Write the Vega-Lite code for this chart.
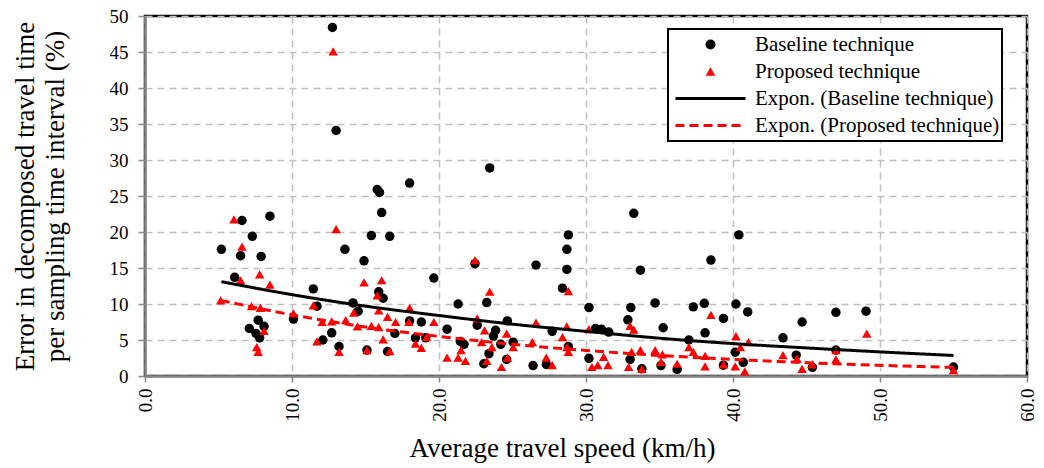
{
  "$schema": "https://vega.github.io/schema/vega-lite/v6.json",
  "width": 882,
  "height": 360,
  "autosize": {"type": "none"},
  "padding": {"left": 145, "top": 16, "right": 17, "bottom": 92},
  "background": "#ffffff",
  "config": {
    "font": "Liberation Serif",
    "view": {"stroke": "#000000", "strokeWidth": 2.5},
    "axis": {
      "labelFont": "Liberation Serif",
      "titleFont": "Liberation Serif",
      "labelColor": "#000000",
      "titleColor": "#000000",
      "titleFontWeight": "normal",
      "labelFontSize": 19,
      "titleFontSize": 27,
      "grid": true,
      "gridDash": [7, 5],
      "gridColor": "#bfbfbf",
      "gridWidth": 1.5,
      "domainColor": "#878787",
      "domainWidth": 2.5,
      "tickColor": "#878787",
      "tickWidth": 1.5,
      "tickSize": 7,
      "labelFlush": false,
      "labelOverlap": false
    }
  },
  "datasets": {
    "points": [
      {"x": 5.2, "y": 17.6, "label": "Baseline technique"},
      {"x": 6.1, "y": 13.7, "label": "Baseline technique"},
      {"x": 6.6, "y": 21.6, "label": "Baseline technique"},
      {"x": 6.5, "y": 16.7, "label": "Baseline technique"},
      {"x": 7.3, "y": 19.4, "label": "Baseline technique"},
      {"x": 7.9, "y": 16.6, "label": "Baseline technique"},
      {"x": 8.5, "y": 22.2, "label": "Baseline technique"},
      {"x": 7.1, "y": 6.6, "label": "Baseline technique"},
      {"x": 7.7, "y": 7.75, "label": "Baseline technique"},
      {"x": 8.1, "y": 6.9, "label": "Baseline technique"},
      {"x": 7.55, "y": 5.9, "label": "Baseline technique"},
      {"x": 7.8, "y": 5.3, "label": "Baseline technique"},
      {"x": 12.75, "y": 48.4, "label": "Baseline technique"},
      {"x": 13.0, "y": 34.1, "label": "Baseline technique"},
      {"x": 10.1, "y": 7.9, "label": "Baseline technique"},
      {"x": 11.45, "y": 12.1, "label": "Baseline technique"},
      {"x": 11.7, "y": 9.7, "label": "Baseline technique"},
      {"x": 12.1, "y": 5.0, "label": "Baseline technique"},
      {"x": 12.7, "y": 6.0, "label": "Baseline technique"},
      {"x": 13.2, "y": 4.1, "label": "Baseline technique"},
      {"x": 13.6, "y": 17.6, "label": "Baseline technique"},
      {"x": 14.15, "y": 10.15, "label": "Baseline technique"},
      {"x": 14.5, "y": 9.0, "label": "Baseline technique"},
      {"x": 14.9, "y": 16.0, "label": "Baseline technique"},
      {"x": 15.4, "y": 19.5, "label": "Baseline technique"},
      {"x": 15.8, "y": 25.9, "label": "Baseline technique"},
      {"x": 15.95, "y": 25.5, "label": "Baseline technique"},
      {"x": 16.1, "y": 22.7, "label": "Baseline technique"},
      {"x": 16.65, "y": 19.4, "label": "Baseline technique"},
      {"x": 15.9, "y": 11.7, "label": "Baseline technique"},
      {"x": 16.2, "y": 10.8, "label": "Baseline technique"},
      {"x": 15.1, "y": 3.6, "label": "Baseline technique"},
      {"x": 16.5, "y": 3.4, "label": "Baseline technique"},
      {"x": 17.0, "y": 5.9, "label": "Baseline technique"},
      {"x": 18.0, "y": 26.8, "label": "Baseline technique"},
      {"x": 18.0, "y": 7.65, "label": "Baseline technique"},
      {"x": 18.8, "y": 7.5, "label": "Baseline technique"},
      {"x": 18.4, "y": 5.3, "label": "Baseline technique"},
      {"x": 19.1, "y": 5.3, "label": "Baseline technique"},
      {"x": 19.65, "y": 13.6, "label": "Baseline technique"},
      {"x": 23.45, "y": 28.9, "label": "Baseline technique"},
      {"x": 21.3, "y": 10.0, "label": "Baseline technique"},
      {"x": 20.55, "y": 6.5, "label": "Baseline technique"},
      {"x": 22.45, "y": 15.6, "label": "Baseline technique"},
      {"x": 23.25, "y": 10.2, "label": "Baseline technique"},
      {"x": 22.6, "y": 7.05, "label": "Baseline technique"},
      {"x": 23.85, "y": 6.35, "label": "Baseline technique"},
      {"x": 23.7, "y": 5.55, "label": "Baseline technique"},
      {"x": 24.65, "y": 7.65, "label": "Baseline technique"},
      {"x": 21.45, "y": 4.8, "label": "Baseline technique"},
      {"x": 21.7, "y": 4.4, "label": "Baseline technique"},
      {"x": 24.2, "y": 4.4, "label": "Baseline technique"},
      {"x": 23.4, "y": 3.1, "label": "Baseline technique"},
      {"x": 23.05, "y": 1.7, "label": "Baseline technique"},
      {"x": 24.6, "y": 2.3, "label": "Baseline technique"},
      {"x": 25.05, "y": 4.7, "label": "Baseline technique"},
      {"x": 26.6, "y": 15.4, "label": "Baseline technique"},
      {"x": 26.4, "y": 1.45, "label": "Baseline technique"},
      {"x": 27.7, "y": 6.2, "label": "Baseline technique"},
      {"x": 27.3, "y": 1.6, "label": "Baseline technique"},
      {"x": 28.4, "y": 12.2, "label": "Baseline technique"},
      {"x": 28.7, "y": 14.8, "label": "Baseline technique"},
      {"x": 28.7, "y": 17.6, "label": "Baseline technique"},
      {"x": 28.8, "y": 19.6, "label": "Baseline technique"},
      {"x": 28.8, "y": 4.1, "label": "Baseline technique"},
      {"x": 30.2, "y": 9.5, "label": "Baseline technique"},
      {"x": 30.2, "y": 2.45, "label": "Baseline technique"},
      {"x": 30.65, "y": 6.6, "label": "Baseline technique"},
      {"x": 31.05, "y": 6.5, "label": "Baseline technique"},
      {"x": 31.55, "y": 6.1, "label": "Baseline technique"},
      {"x": 33.25, "y": 22.6, "label": "Baseline technique"},
      {"x": 33.7, "y": 14.7, "label": "Baseline technique"},
      {"x": 33.05, "y": 9.5, "label": "Baseline technique"},
      {"x": 32.85, "y": 7.8, "label": "Baseline technique"},
      {"x": 33.0, "y": 2.3, "label": "Baseline technique"},
      {"x": 33.8, "y": 1.0, "label": "Baseline technique"},
      {"x": 34.7, "y": 10.15, "label": "Baseline technique"},
      {"x": 35.25, "y": 6.7, "label": "Baseline technique"},
      {"x": 35.1, "y": 1.45, "label": "Baseline technique"},
      {"x": 36.2, "y": 0.9, "label": "Baseline technique"},
      {"x": 37.0, "y": 5.0, "label": "Baseline technique"},
      {"x": 37.3, "y": 9.6, "label": "Baseline technique"},
      {"x": 38.05, "y": 10.1, "label": "Baseline technique"},
      {"x": 38.5, "y": 16.1, "label": "Baseline technique"},
      {"x": 38.1, "y": 6.0, "label": "Baseline technique"},
      {"x": 39.35, "y": 8.0, "label": "Baseline technique"},
      {"x": 39.35, "y": 1.5, "label": "Baseline technique"},
      {"x": 40.4, "y": 19.6, "label": "Baseline technique"},
      {"x": 40.2, "y": 10.0, "label": "Baseline technique"},
      {"x": 41.0, "y": 8.9, "label": "Baseline technique"},
      {"x": 40.15, "y": 3.3, "label": "Baseline technique"},
      {"x": 40.7, "y": 1.9, "label": "Baseline technique"},
      {"x": 43.4, "y": 5.3, "label": "Baseline technique"},
      {"x": 44.7, "y": 7.5, "label": "Baseline technique"},
      {"x": 44.3, "y": 2.9, "label": "Baseline technique"},
      {"x": 45.4, "y": 1.2, "label": "Baseline technique"},
      {"x": 47.0, "y": 8.85, "label": "Baseline technique"},
      {"x": 47.0, "y": 3.6, "label": "Baseline technique"},
      {"x": 49.05, "y": 9.0, "label": "Baseline technique"},
      {"x": 55.0, "y": 1.25, "label": "Baseline technique"},
      {"x": 6.05, "y": 21.75, "label": "Proposed technique"},
      {"x": 6.6, "y": 17.95, "label": "Proposed technique"},
      {"x": 6.5, "y": 13.3, "label": "Proposed technique"},
      {"x": 5.15, "y": 10.5, "label": "Proposed technique"},
      {"x": 7.25, "y": 9.7, "label": "Proposed technique"},
      {"x": 7.85, "y": 9.45, "label": "Proposed technique"},
      {"x": 7.8, "y": 14.1, "label": "Proposed technique"},
      {"x": 8.5, "y": 12.7, "label": "Proposed technique"},
      {"x": 8.1, "y": 6.25, "label": "Proposed technique"},
      {"x": 7.6, "y": 4.0, "label": "Proposed technique"},
      {"x": 7.7, "y": 3.35, "label": "Proposed technique"},
      {"x": 12.8, "y": 45.1, "label": "Proposed technique"},
      {"x": 13.0, "y": 20.4, "label": "Proposed technique"},
      {"x": 10.1, "y": 8.7, "label": "Proposed technique"},
      {"x": 11.45, "y": 9.8, "label": "Proposed technique"},
      {"x": 11.7, "y": 4.8, "label": "Proposed technique"},
      {"x": 12.05, "y": 7.5, "label": "Proposed technique"},
      {"x": 12.7, "y": 7.6, "label": "Proposed technique"},
      {"x": 13.2, "y": 3.35, "label": "Proposed technique"},
      {"x": 13.65, "y": 7.75, "label": "Proposed technique"},
      {"x": 14.2, "y": 8.8, "label": "Proposed technique"},
      {"x": 14.45, "y": 6.9, "label": "Proposed technique"},
      {"x": 14.9, "y": 13.0, "label": "Proposed technique"},
      {"x": 15.4, "y": 6.95, "label": "Proposed technique"},
      {"x": 15.9, "y": 6.8, "label": "Proposed technique"},
      {"x": 16.1, "y": 13.3, "label": "Proposed technique"},
      {"x": 15.8, "y": 11.2, "label": "Proposed technique"},
      {"x": 15.9, "y": 9.1, "label": "Proposed technique"},
      {"x": 16.2, "y": 5.1, "label": "Proposed technique"},
      {"x": 16.5, "y": 8.2, "label": "Proposed technique"},
      {"x": 15.1, "y": 3.6, "label": "Proposed technique"},
      {"x": 16.65, "y": 3.45, "label": "Proposed technique"},
      {"x": 17.05, "y": 7.5, "label": "Proposed technique"},
      {"x": 18.0, "y": 9.45, "label": "Proposed technique"},
      {"x": 17.95, "y": 7.5, "label": "Proposed technique"},
      {"x": 18.4, "y": 4.5, "label": "Proposed technique"},
      {"x": 18.8, "y": 3.9, "label": "Proposed technique"},
      {"x": 19.15, "y": 5.4, "label": "Proposed technique"},
      {"x": 19.65, "y": 7.5, "label": "Proposed technique"},
      {"x": 20.55, "y": 2.55, "label": "Proposed technique"},
      {"x": 21.3, "y": 2.55, "label": "Proposed technique"},
      {"x": 21.5, "y": 3.6, "label": "Proposed technique"},
      {"x": 21.8, "y": 2.1, "label": "Proposed technique"},
      {"x": 22.45, "y": 16.1, "label": "Proposed technique"},
      {"x": 23.45, "y": 11.7, "label": "Proposed technique"},
      {"x": 22.6, "y": 8.0, "label": "Proposed technique"},
      {"x": 23.1, "y": 6.35, "label": "Proposed technique"},
      {"x": 22.9, "y": 4.7, "label": "Proposed technique"},
      {"x": 23.6, "y": 4.0, "label": "Proposed technique"},
      {"x": 23.25, "y": 2.1, "label": "Proposed technique"},
      {"x": 24.6, "y": 5.9, "label": "Proposed technique"},
      {"x": 25.05, "y": 4.0, "label": "Proposed technique"},
      {"x": 24.65, "y": 2.55, "label": "Proposed technique"},
      {"x": 24.25, "y": 1.25, "label": "Proposed technique"},
      {"x": 26.35, "y": 4.7, "label": "Proposed technique"},
      {"x": 26.6, "y": 7.4, "label": "Proposed technique"},
      {"x": 27.3, "y": 2.55, "label": "Proposed technique"},
      {"x": 27.7, "y": 1.5, "label": "Proposed technique"},
      {"x": 28.7, "y": 6.9, "label": "Proposed technique"},
      {"x": 28.4, "y": 5.4, "label": "Proposed technique"},
      {"x": 28.8, "y": 11.8, "label": "Proposed technique"},
      {"x": 28.7, "y": 4.0, "label": "Proposed technique"},
      {"x": 28.8, "y": 3.35, "label": "Proposed technique"},
      {"x": 30.2, "y": 6.5, "label": "Proposed technique"},
      {"x": 30.4, "y": 1.25, "label": "Proposed technique"},
      {"x": 31.2, "y": 2.65, "label": "Proposed technique"},
      {"x": 31.5, "y": 1.5, "label": "Proposed technique"},
      {"x": 30.8, "y": 1.5, "label": "Proposed technique"},
      {"x": 33.0, "y": 6.95, "label": "Proposed technique"},
      {"x": 33.25, "y": 6.45, "label": "Proposed technique"},
      {"x": 32.9, "y": 1.25, "label": "Proposed technique"},
      {"x": 33.7, "y": 3.6, "label": "Proposed technique"},
      {"x": 33.1, "y": 3.35, "label": "Proposed technique"},
      {"x": 33.8, "y": 1.0, "label": "Proposed technique"},
      {"x": 34.7, "y": 3.6, "label": "Proposed technique"},
      {"x": 35.2, "y": 3.0, "label": "Proposed technique"},
      {"x": 35.1, "y": 1.95, "label": "Proposed technique"},
      {"x": 36.2, "y": 1.7, "label": "Proposed technique"},
      {"x": 37.0, "y": 4.0, "label": "Proposed technique"},
      {"x": 37.3, "y": 3.35, "label": "Proposed technique"},
      {"x": 38.5, "y": 8.5, "label": "Proposed technique"},
      {"x": 38.1, "y": 2.8, "label": "Proposed technique"},
      {"x": 38.1, "y": 1.35, "label": "Proposed technique"},
      {"x": 39.35, "y": 1.6, "label": "Proposed technique"},
      {"x": 40.2, "y": 5.55, "label": "Proposed technique"},
      {"x": 40.5, "y": 4.0, "label": "Proposed technique"},
      {"x": 40.15, "y": 1.35, "label": "Proposed technique"},
      {"x": 40.8, "y": 0.65, "label": "Proposed technique"},
      {"x": 41.05, "y": 4.7, "label": "Proposed technique"},
      {"x": 43.4, "y": 2.9, "label": "Proposed technique"},
      {"x": 44.35, "y": 2.4, "label": "Proposed technique"},
      {"x": 44.7, "y": 1.0, "label": "Proposed technique"},
      {"x": 45.4, "y": 1.6, "label": "Proposed technique"},
      {"x": 47.0, "y": 3.6, "label": "Proposed technique"},
      {"x": 47.0, "y": 2.3, "label": "Proposed technique"},
      {"x": 49.1, "y": 5.9, "label": "Proposed technique"},
      {"x": 55.0, "y": 0.8, "label": "Proposed technique"}
    ],
    "trend": [
      {"x": 5.2, "y": 13.1, "label": "Expon. (Baseline technique)"},
      {"x": 10, "y": 11.3, "label": "Expon. (Baseline technique)"},
      {"x": 15, "y": 9.7, "label": "Expon. (Baseline technique)"},
      {"x": 20, "y": 8.4, "label": "Expon. (Baseline technique)"},
      {"x": 25, "y": 7.2, "label": "Expon. (Baseline technique)"},
      {"x": 30, "y": 6.2, "label": "Expon. (Baseline technique)"},
      {"x": 35, "y": 5.25, "label": "Expon. (Baseline technique)"},
      {"x": 40, "y": 4.5, "label": "Expon. (Baseline technique)"},
      {"x": 45, "y": 3.9, "label": "Expon. (Baseline technique)"},
      {"x": 50, "y": 3.35, "label": "Expon. (Baseline technique)"},
      {"x": 55, "y": 2.85, "label": "Expon. (Baseline technique)"},
      {"x": 5.15, "y": 10.5, "label": "Expon. (Proposed technique)"},
      {"x": 10, "y": 8.5, "label": "Expon. (Proposed technique)"},
      {"x": 15, "y": 6.8, "label": "Expon. (Proposed technique)"},
      {"x": 20, "y": 5.5, "label": "Expon. (Proposed technique)"},
      {"x": 25, "y": 4.4, "label": "Expon. (Proposed technique)"},
      {"x": 30, "y": 3.55, "label": "Expon. (Proposed technique)"},
      {"x": 35, "y": 2.85, "label": "Expon. (Proposed technique)"},
      {"x": 40, "y": 2.3, "label": "Expon. (Proposed technique)"},
      {"x": 45, "y": 1.85, "label": "Expon. (Proposed technique)"},
      {"x": 50, "y": 1.48, "label": "Expon. (Proposed technique)"},
      {"x": 55, "y": 1.2, "label": "Expon. (Proposed technique)"}
    ]
  },
  "encoding": {
    "x": {
      "field": "x",
      "type": "quantitative",
      "scale": {"domain": [0, 60], "nice": false, "zero": false},
      "axis": {
        "title": "Average  travel speed (km/h)",
        "values": [0, 10, 20, 30, 40, 50, 60],
        "format": ".1f",
        "labelAngle": 270,
        "tickSize": 6,
        "labelPadding": 6,
        "titlePadding": 14,
        "titleX": 417,
        "titleAlign": "center"
      }
    },
    "y": {
      "field": "y",
      "type": "quantitative",
      "scale": {"domain": [0, 50], "nice": false},
      "axis": {
        "title": ["Error in decomposed travel time", "per sampling time interval (%)"],
        "values": [0, 5, 10, 15, 20, 25, 30, 35, 40, 45, 50],
        "labelPadding": 10,
        "titleLineHeight": 30,
        "titlePadding": 40
      }
    },
    "color": {
      "field": "label",
      "type": "nominal",
      "scale": {
        "domain": ["Baseline technique", "Proposed technique", "Expon. (Baseline technique)", "Expon. (Proposed technique)"],
        "range": ["#000000", "#ff0000", "#000000", "#ff0000"]
      },
      "legend": {
        "title": null,
        "orient": "none",
        "legendX": 523,
        "legendY": 13,
        "labelFont": "Liberation Serif",
        "labelFontSize": 21,
        "labelColor": "#000000",
        "labelLimit": 400,
        "symbolSize": 4900,
        "clipHeight": 27,
        "rowPadding": 0,
        "padding": 2,
        "strokeColor": "#000000",
        "fillColor": "#ffffff",
        "symbolOffset": 30,
        "labelOffset": 34,
        "encode": {
          "legend": {"update": {"strokeWidth": {"value": 2}}},
          "symbols": {
            "update": {
              "shape": {"scale": "shape", "field": "value"},
              "fill": {"scale": "color", "field": "value"},
              "stroke": {"scale": "color", "field": "value"},
              "strokeDash": {"scale": "strokeDash", "field": "value"},
              "strokeWidth": {"signal": "(datum.value == 'Baseline technique' || datum.value == 'Proposed technique') ? 0 : 3"},
              "size": {"signal": "datum.value == 'Baseline technique' ? 100 : (datum.value == 'Proposed technique' ? 95 : 4900)"},
              "opacity": {"value": 1}
            }
          }
        }
      }
    }
  },
  "layer": [
    {
      "data": {"name": "points"},
      "mark": {"type": "point", "filled": true, "opacity": 1, "size": 90},
      "encoding": {
        "shape": {
          "field": "label",
          "type": "nominal",
          "scale": {
            "domain": ["Baseline technique", "Proposed technique", "Expon. (Baseline technique)", "Expon. (Proposed technique)"],
            "range": ["circle", "triangle-up", "stroke", "stroke"]
          },
          "legend": null
        }
      }
    },
    {
      "data": {"name": "trend"},
      "mark": {"type": "line", "strokeWidth": 3, "interpolate": "monotone"},
      "encoding": {
        "strokeDash": {
          "field": "label",
          "type": "nominal",
          "scale": {
            "domain": ["Baseline technique", "Proposed technique", "Expon. (Baseline technique)", "Expon. (Proposed technique)"],
            "range": [[1, 0], [1, 0], [1, 0], [9, 5]]
          },
          "legend": null
        }
      }
    }
  ]
}
